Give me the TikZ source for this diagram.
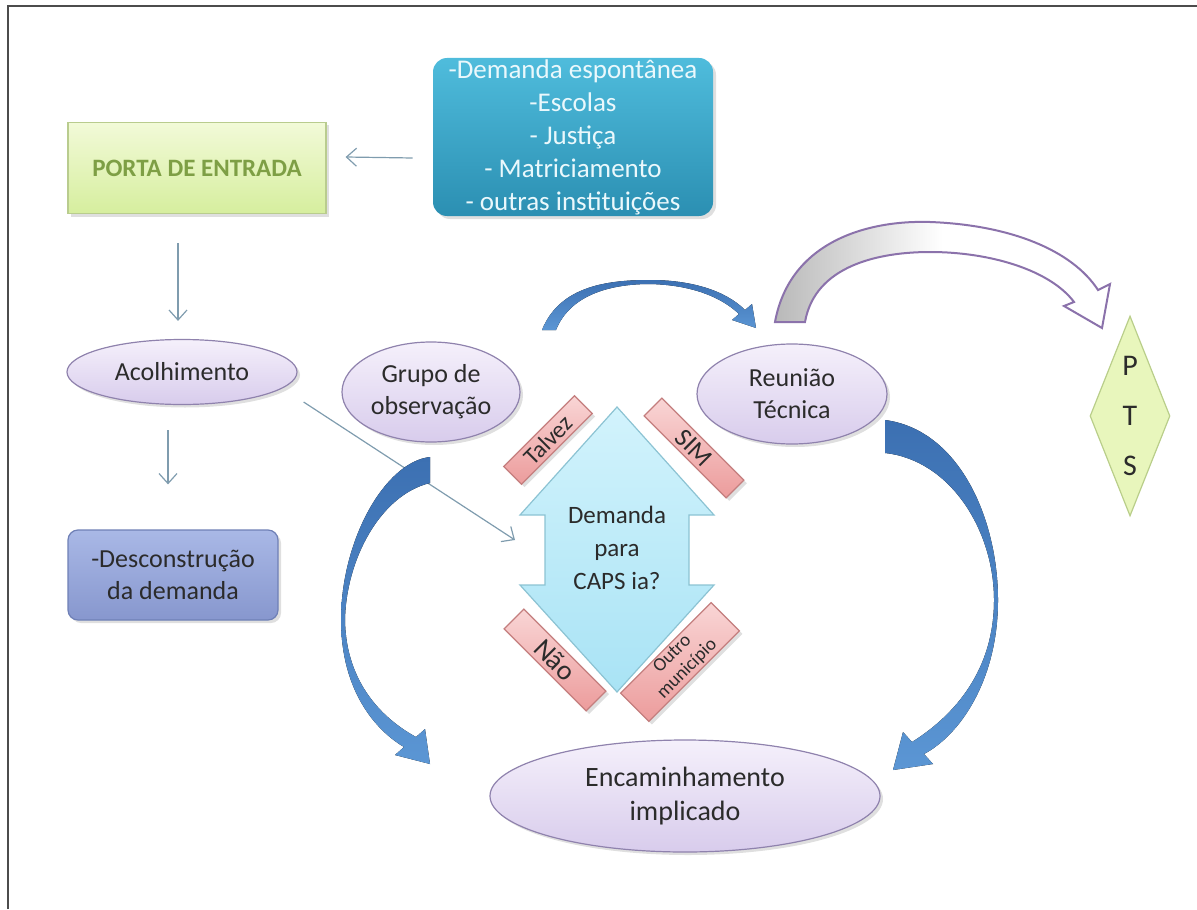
\documentclass[tikz,border=0pt]{standalone}
\usepackage{fontspec}
\setmainfont{Carlito}
\usetikzlibrary{positioning,shapes.geometric,arrows.meta,calc,shadows}
\definecolor{ovalTop}{HTML}{F5F0FB}
\definecolor{ovalBot}{HTML}{D8CCEC}
\definecolor{ovalLine}{HTML}{8F82AD}
\definecolor{greenTop}{HTML}{F2FAD8}
\definecolor{greenBot}{HTML}{D6EE9E}
\definecolor{greenLine}{HTML}{B9CC8E}
\definecolor{greenText}{HTML}{7E9F45}
\definecolor{srcTop}{HTML}{4FBCDC}
\definecolor{srcBot}{HTML}{2B8FB2}
\definecolor{srcText}{HTML}{EAF8FC}
\definecolor{blueTop}{HTML}{A9B8E6}
\definecolor{blueBot}{HTML}{8797CE}
\definecolor{blueLine}{HTML}{6F80B6}
\definecolor{ptsFill}{HTML}{E8F6BC}
\definecolor{ptsLine}{HTML}{B9CE8A}
\definecolor{capsTop}{HTML}{D2F3FC}
\definecolor{capsBot}{HTML}{A9E3F5}
\definecolor{capsLine}{HTML}{8CC3D3}
\definecolor{tagTop}{HTML}{F9D5D5}
\definecolor{tagBot}{HTML}{EC9C9C}
\definecolor{tagLine}{HTML}{C47E7E}
\definecolor{arrTop}{HTML}{3C70B2}
\definecolor{arrBot}{HTML}{5B96D4}
\definecolor{linkCol}{HTML}{7F9CAE}
\definecolor{hollowLine}{HTML}{8B72AB}
\definecolor{txt}{HTML}{2B2B2B}
\tikzset{
  shade/.style={drop shadow={opacity=.25,shadow xshift=1.5pt,shadow yshift=-1.5pt}},
  oval/.style={ellipse,draw=ovalLine,line width=0.6pt,top color=ovalTop,bottom color=ovalBot,inner sep=0pt,align=center,text=txt,font=\fontsize{13}{16}\selectfont,shade},
  greenbox/.style={rectangle,draw=greenLine,line width=0.6pt,top color=greenTop,bottom color=greenBot,minimum width=129pt,minimum height=45.5pt,text=greenText,font=\fontsize{12.5}{14}\selectfont\bfseries,shade},
  srcbox/.style={rectangle,rounded corners=7pt,top color=srcTop,bottom color=srcBot,minimum width=140pt,minimum height=79pt,inner sep=0pt,align=center,text=srcText,font=\fontsize{13.5}{16.5}\selectfont,shade},
  bluebox/.style={rectangle,rounded corners=5pt,draw=blueLine,line width=0.6pt,top color=blueTop,bottom color=blueBot,minimum width=105pt,minimum height=45pt,align=center,text=txt,font=\fontsize{13}{16}\selectfont,shade},
  pts/.style={diamond,aspect=0.4,draw=ptsLine,line width=0.6pt,fill=ptsFill,minimum width=40pt,minimum height=100pt,inner sep=0pt,align=center,text=txt,font=\fontsize{15}{25}\selectfont},
  capsarrow/.style={draw=capsLine,line width=0.6pt,top color=capsTop,bottom color=capsBot},
  capstext/.style={align=center,text=txt,font=\fontsize{12.5}{16.5}\selectfont},
  tag/.style={rectangle,draw=tagLine,line width=0.6pt,top color=tagTop,bottom color=tagBot,minimum height=12.5pt,inner sep=0pt,align=center,text=txt,font=\fontsize{12}{12}\selectfont,shade},
  link/.style={-{Straight Barb[length=5pt,width=9pt]},draw=linkCol,line width=0.6pt},
  bigarrow/.style={top color=arrTop,bottom color=arrBot},
  hollow/.style={draw=hollowLine,line width=1pt,left color=gray!55,right color=white,middle color=white},
  frame/.style={draw=black!70,line width=1pt}
}
\begin{document}
\begin{tikzpicture}[x=0.5pt,y=-0.5pt]
\useasboundingbox (0,0) rectangle (1197,909);
\draw[frame] (8,909) -- (8,6) -- (1197,6);

% boxes and ovals
\node[greenbox] (porta) at (197,168) {PORTA DE ENTRADA};
\node[srcbox] (src) at (573,137) {-Demanda espontânea\\-Escolas\\- Justiça\\- Matriciamento\\- outras instituições};
\node[oval,minimum width=115pt,minimum height=32.5pt] (acolh) at (182,372) {Acolhimento};
\node[bluebox] (desc) at (173,575) {-Desconstrução\\da demanda};
\node[oval,minimum width=89pt,minimum height=50pt] (grupo) at (431,392) {Grupo de\\observação};
\node[oval,minimum width=95pt,minimum height=50pt] (reun) at (792,394) {Reunião\\Técnica};
\node[oval,minimum width=195pt,minimum height=56pt,font=\fontsize{14}{17}\selectfont] (enc) at (685,796) {Encaminhamento\\implicado};
\node[pts] (pts) at (1130,416) {P\\T\\S};

% question arrow
\draw[capsarrow] (617,407) -- (714,515) -- (689,515) -- (689,585) -- (714,585) -- (617,692)
  -- (520,585) -- (545,585) -- (545,515) -- (520,515) -- cycle;
\node[capstext] (caps) at (617,548) {Demanda\\para\\CAPS ia?};
\coordinate (capsin) at (515,540);

\node[tag,rotate=45,minimum width=50pt] (talvez) at (548,440) {Talvez};
\node[tag,rotate=-45,minimum width=58pt,font=\fontsize{13}{13}\selectfont] (sim) at (694,448) {SIM};
\node[tag,rotate=-45,minimum width=58pt,minimum height=14pt,font=\fontsize{14}{14}\selectfont] (nao) at (555,660) {Não};
\node[tag,rotate=45,minimum width=64pt,minimum height=20pt,font=\fontsize{9.5}{10.5}\selectfont] (outro) at (680,662) {Outro\\município};

% thin links
\draw[link] ([xshift=-10pt,yshift=-10.5pt]src.west) -- ([xshift=9.5pt,yshift=5.5pt]porta.east);
\draw[link] ([xshift=-9.5pt,yshift=-14.5pt]porta.south) -- ([xshift=-2pt,yshift=9pt]acolh.north);
\draw[link] ([xshift=-7pt,yshift=-12.5pt]acolh.south) -- ([xshift=-2.5pt,yshift=22.5pt]desc.north);
\draw[link] ([xshift=3pt,yshift=-15pt]acolh.east) -- (capsin);

% curved arrows
\fill[bigarrow] (542,330) .. controls (560,285) and (610,280) .. (650,280)
  .. controls (690,280) and (725,290) .. (745,310) -- (752,304) -- (756,328) -- (732,320) -- (739,314)
  .. controls (720,296) and (690,285) .. (650,284) .. controls (610,284) and (570,295) .. (556,330) -- cycle;
\fill[bigarrow] (430,457) .. controls (385,462) and (341,540) .. (341,620)
  .. controls (341,690) and (375,730) .. (404,747) -- (395,755) -- (430,764) -- (425,729) -- (416,737)
  .. controls (385,720) and (346,685) .. (345,620) .. controls (346,560) and (380,495) .. (430,483) -- cycle;
\fill[bigarrow] (885,420) .. controls (960,430) and (998,520) .. (998,600)
  .. controls (998,680) and (960,735) .. (924,754) -- (933,764) -- (893,770) -- (903,732) -- (912,742)
  .. controls (955,715) and (994,670) .. (994,600) .. controls (994,530) and (950,460) .. (885,453) -- cycle;
\draw[hollow] (775,322) .. controls (790,240) and (870,220) .. (930,222)
  .. controls (1010,225) and (1072,250) .. (1098,290) -- (1110,284) -- (1102,328) -- (1064,306) -- (1074,302)
  .. controls (1050,270) and (990,252) .. (930,252) .. controls (880,252) and (815,265) .. (805,322) -- cycle;
\end{tikzpicture}
\end{document}
